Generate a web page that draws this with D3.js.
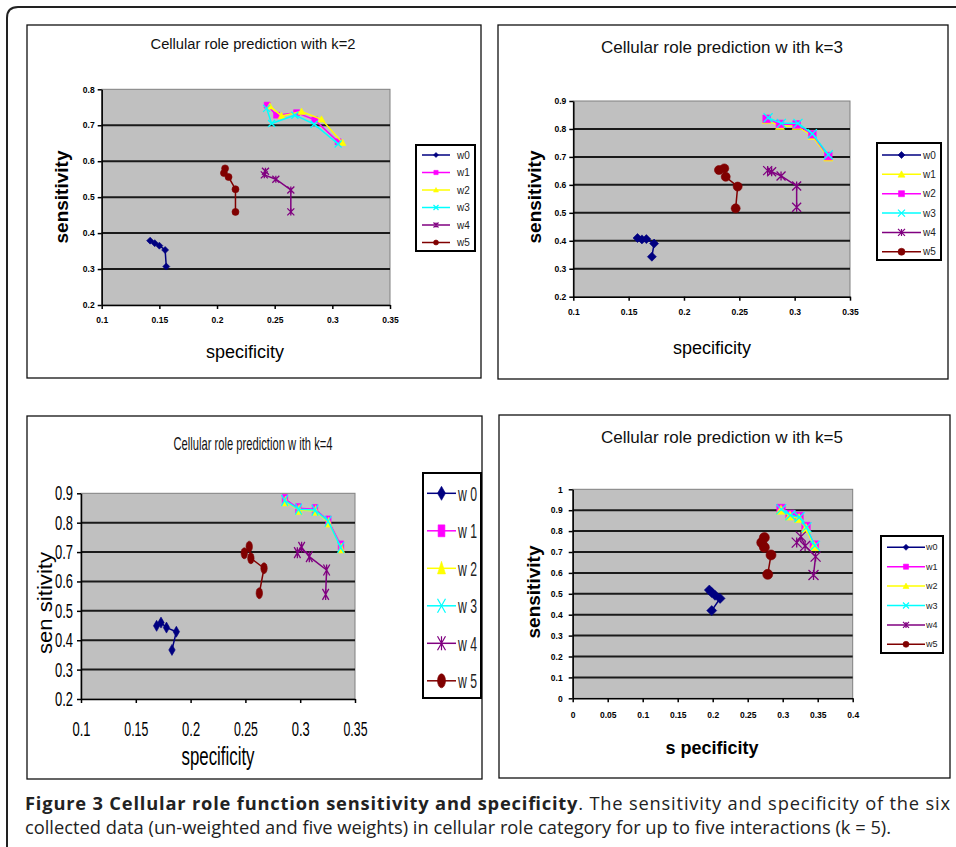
<!DOCTYPE html>
<html>
<head>
<meta charset="utf-8">
<script src="https://cdn.jsdelivr.net/npm/d3@7"></script>
<style>
  body { margin: 0; background: #fff; }
  svg { display: block; }
</style>
</head>
<body>
<div id="chart"></div>
<script>

// series and their look (Excel 2003 defaults)
var seriesNames = ["w0", "w1", "w2", "w3", "w4", "w5"];
var seriesColors = ["#000080", "#ff00ff", "#ffff00", "#00ffff", "#800080", "#800000"];
var seriesMarkers = ["diamond", "square", "triangle", "x", "star", "circle"];

// [specificity, sensitivity] per series
var k2Series = [
    [[0.142, 0.379], [0.146, 0.372], [0.150, 0.365], [0.155, 0.353], [0.156, 0.307]],
    [[0.2435, 0.756], [0.2516, 0.728], [0.269, 0.735], [0.2848, 0.715], [0.305, 0.654]],
    [[0.2458, 0.753], [0.256, 0.726], [0.2733, 0.738], [0.2906, 0.7165], [0.3088, 0.6515]],
    [[0.243, 0.747], [0.2473, 0.705], [0.2675, 0.728], [0.2842, 0.703], [0.305, 0.648]],
    [[0.242, 0.572], [0.241, 0.562], [0.251, 0.550], [0.264, 0.520], [0.264, 0.459]],
    [[0.207, 0.580], [0.206, 0.567], [0.210, 0.556], [0.216, 0.522], [0.216, 0.459]]
];
var k3Series = [
    [[0.158, 0.410], [0.162, 0.405], [0.166, 0.406], [0.173, 0.390], [0.171, 0.343]],
    [[0.2747, 0.832], [0.2867, 0.811], [0.3018, 0.811], [0.316, 0.775], [0.3304, 0.698]],
    [[0.2747, 0.836], [0.2867, 0.818], [0.3018, 0.816], [0.316, 0.781], [0.3304, 0.703]],
    [[0.276, 0.840], [0.288, 0.820], [0.303, 0.820], [0.316, 0.783], [0.3304, 0.708]],
    [[0.2756, 0.651], [0.2792, 0.647], [0.2877, 0.632], [0.3018, 0.596], [0.3018, 0.520]],
    [[0.2316, 0.653], [0.2364, 0.659], [0.2377, 0.629], [0.2485, 0.594], [0.2467, 0.516]]
];
var k4Series = [
    [[0.169, 0.449], [0.173, 0.460], [0.178, 0.443], [0.187, 0.429], [0.183, 0.367]],
    [[0.2861, 0.880], [0.2983, 0.849], [0.3135, 0.846], [0.3257, 0.807], [0.3372, 0.722]],
    [[0.2865, 0.872], [0.2990, 0.843], [0.3140, 0.840], [0.3260, 0.800], [0.3375, 0.712]],
    [[0.2858, 0.876], [0.2985, 0.846], [0.3135, 0.843], [0.3255, 0.805], [0.3370, 0.716]],
    [[0.2974, 0.698], [0.3013, 0.716], [0.3083, 0.6845], [0.3241, 0.639], [0.3232, 0.556]],
    [[0.249, 0.696], [0.2535, 0.7185], [0.255, 0.679], [0.267, 0.645], [0.2627, 0.560]]
];
var k5Series = [
    [[0.1952, 0.518], [0.1986, 0.506], [0.2033, 0.493], [0.2105, 0.478], [0.1986, 0.4195]],
    [[0.2976, 0.908], [0.3105, 0.880], [0.3233, 0.870], [0.3333, 0.822], [0.3452, 0.733]],
    [[0.2976, 0.900], [0.3105, 0.872], [0.3233, 0.860], [0.3333, 0.812], [0.3452, 0.726]],
    [[0.2980, 0.904], [0.3110, 0.876], [0.3240, 0.866], [0.3340, 0.818], [0.3460, 0.730]],
    [[0.320, 0.745], [0.326, 0.7735], [0.332, 0.729], [0.347, 0.678], [0.344, 0.590]],
    [[0.2738, 0.769], [0.270, 0.745], [0.2738, 0.7225], [0.2833, 0.686], [0.2786, 0.593]]
];

// tick values
var xTicks1 = [0.1, 0.15, 0.2, 0.25, 0.3, 0.35];
var xTicks2 = [0, 0.05, 0.1, 0.15, 0.2, 0.25, 0.3, 0.35, 0.4];
var yTicks1 = [0.2, 0.3, 0.4, 0.5, 0.6, 0.7, 0.8];
var yTicks2 = [0.2, 0.3, 0.4, 0.5, 0.6, 0.7, 0.8, 0.9];
var yTicks3 = [0, 0.1, 0.2, 0.3, 0.4, 0.5, 0.6, 0.7, 0.8, 0.9, 1];

var titles = [
    "Cellular role prediction with k=2",
    "Cellular role prediction w ith k=3",
    "Cellular role prediction w ith k=4",
    "Cellular role prediction w ith k=5"
];

var W = 956, H = 847;
var svg = d3.select("#chart").append("svg").attr("width", W).attr("height", H);

// outer figure frame with rounded top-left corner
svg.append("path")
    .attr("d", "M7," + H + " L7,18 Q7,7 18,7 L" + W + ",7")
    .attr("fill", "none").attr("stroke", "#222").attr("stroke-width", 2);

function markerPath(type, rx, ry) {
    switch (type) {
        case "diamond": return "M0," + (-ry) + "L" + rx + ",0L0," + ry + "L" + (-rx) + ",0Z";
        case "square": return "M" + (-rx * 0.85) + "," + (-ry * 0.85) + "h" + (1.7 * rx) + "v" + (1.7 * ry) + "h" + (-1.7 * rx) + "Z";
        case "triangle": return "M0," + (-ry) + "L" + rx + "," + (ry * 0.8) + "L" + (-rx) + "," + (ry * 0.8) + "Z";
        case "x": return "M" + (-rx) + "," + (-ry) + "L" + rx + "," + ry + "M" + rx + "," + (-ry) + "L" + (-rx) + "," + ry;
        case "star": return "M" + (-rx) + "," + (-ry) + "L" + rx + "," + ry + "M" + rx + "," + (-ry) + "L" + (-rx) + "," + ry + "M0," + (-ry) + "L0," + ry;
        default:
            return "M" + rx + ",0A" + rx + "," + ry + " 0 1,1 " + (-rx) + ",0A" + rx + "," + ry + " 0 1,1 " + rx + ",0Z";
    }
}

function drawMarker(g, type, color, x, y, rx, ry, sw) {
    var open = (type === "x" || type === "star");
    g.append("path")
        .attr("transform", "translate(" + x + "," + y + ")")
        .attr("d", markerPath(type, rx, ry))
        .attr("fill", open ? "none" : color)
        .attr("stroke", color)
        .attr("stroke-width", open ? sw : 0.6);
}

function fmt(d) { return String(+d.toFixed(2)); }

function drawPanel(cfg) {
    var g = svg.append("g");

    // chart area frame
    g.append("rect")
        .attr("x", cfg.frame[0]).attr("y", cfg.frame[1])
        .attr("width", cfg.frame[2] - cfg.frame[0]).attr("height", cfg.frame[3] - cfg.frame[1])
        .attr("fill", "#fff").attr("stroke", "#111").attr("stroke-width", 1.3);

    var x = d3.scaleLinear().domain(cfg.xDomain).range([cfg.plot[0], cfg.plot[1]]);
    var y = d3.scaleLinear().domain(cfg.yDomain).range([cfg.plot[3], cfg.plot[2]]);

    // plot area
    g.append("rect")
        .attr("x", cfg.plot[0]).attr("y", cfg.plot[2])
        .attr("width", cfg.plot[1] - cfg.plot[0]).attr("height", cfg.plot[3] - cfg.plot[2])
        .attr("fill", "#c0c0c0").attr("stroke", "#808080").attr("stroke-width", 1);

    // gridlines
    g.selectAll(".grid").data(cfg.yTicks.slice(1, -1)).enter().append("line")
        .attr("x1", cfg.plot[0]).attr("x2", cfg.plot[1])
        .attr("y1", function (d) { return y(d); }).attr("y2", function (d) { return y(d); })
        .attr("stroke", "#1a1a1a").attr("stroke-width", 2);

    // axes
    var ax = g.append("g").attr("transform", "translate(0," + cfg.plot[3] + ")")
        .call(d3.axisBottom(x).tickValues(cfg.xTicks).tickFormat(fmt).tickSize(4).tickSizeOuter(0).tickPadding(cfg.xPad));
    var ay = g.append("g").attr("transform", "translate(" + cfg.plot[0] + ",0)")
        .call(d3.axisLeft(y).tickValues(cfg.yTicks).tickFormat(fmt).tickSize(4).tickSizeOuter(0).tickPadding(cfg.yPad));
    [ax, ay].forEach(function (a) {
        a.select(".domain").attr("stroke", "#000").attr("stroke-width", 1.5);
        a.selectAll(".tick line").attr("stroke", "#000").attr("stroke-width", 1.5);
        a.selectAll(".tick text")
            .attr("fill", "#000")
            .style("font-family", "'Liberation Sans', Arial, sans-serif")
            .style("font-size", cfg.tickSize + "px")
            .style("font-weight", cfg.tickWeight);
        if (cfg.narrow) {
            a.selectAll(".tick text")
                .attr("textLength", function (d) { return fmt(d).length * 6; })
                .attr("lengthAdjust", "spacingAndGlyphs");
        }
    });

    // series
    var line = d3.line().x(function (d) { return x(d[0]); }).y(function (d) { return y(d[1]); });
    cfg.data.forEach(function (pts, i) {
        var s = cfg.styleOrder[i];
        g.append("path").attr("d", line(pts))
            .attr("fill", "none").attr("stroke", seriesColors[s]).attr("stroke-width", cfg.lineW);
        pts.forEach(function (p) {
            drawMarker(g, seriesMarkers[s], seriesColors[s], x(p[0]), y(p[1]), cfg.mrx, cfg.mry, 1.3);
        });
    });

    // title
    var t = g.append("text")
        .attr("x", cfg.title.x).attr("y", cfg.title.y)
        .attr("text-anchor", "middle")
        .style("font-family", "'Liberation Sans', Arial, sans-serif")
        .style("font-size", cfg.title.size + "px")
        .attr("fill", "#111")
        .text(cfg.title.text);
    if (cfg.title.len) t.attr("textLength", cfg.title.len).attr("lengthAdjust", "spacingAndGlyphs");

    // axis titles
    var yl = g.append("text")
        .attr("transform", "translate(" + cfg.yLabel.x + "," + cfg.yLabel.y + ") rotate(-90)")
        .attr("text-anchor", "middle")
        .style("font-family", "'Liberation Sans', Arial, sans-serif")
        .style("font-size", cfg.yLabel.size + "px")
        .style("font-weight", cfg.yLabel.weight)
        .text(cfg.yLabel.text);
    if (cfg.yLabel.len) yl.attr("textLength", cfg.yLabel.len).attr("lengthAdjust", "spacingAndGlyphs");
    var xl = g.append("text")
        .attr("x", cfg.xLabel.x).attr("y", cfg.xLabel.y)
        .attr("text-anchor", "middle")
        .style("font-family", "'Liberation Sans', Arial, sans-serif")
        .style("font-size", cfg.xLabel.size + "px")
        .style("font-weight", cfg.xLabel.weight)
        .text(cfg.xLabel.text);
    if (cfg.xLabel.len) xl.attr("textLength", cfg.xLabel.len).attr("lengthAdjust", "spacingAndGlyphs");

    // legend
    var L = cfg.legend;
    g.append("rect")
        .attr("x", L.box[0]).attr("y", L.box[1])
        .attr("width", L.box[2] - L.box[0]).attr("height", L.box[3] - L.box[1])
        .attr("fill", "#fff").attr("stroke", "#000").attr("stroke-width", 2);
    seriesNames.forEach(function (name, i) {
        var s = cfg.styleOrder[i];
        var ly = L.y0 + i * L.dy;
        g.append("line")
            .attr("x1", L.x1).attr("x2", L.x2).attr("y1", ly).attr("y2", ly)
            .attr("stroke", seriesColors[s]).attr("stroke-width", cfg.lineW);
        drawMarker(g, seriesMarkers[s], seriesColors[s], (L.x1 + L.x2) / 2, ly, L.mrx, L.mry, 1.2);
        var lt = g.append("text")
            .attr("x", L.tx).attr("y", ly).attr("dy", "0.35em")
            .style("font-family", "'Liberation Sans', Arial, sans-serif")
            .style("font-size", L.size + "px")
            .attr("fill", "#222")
            .text(L.label(name));
        if (L.len) lt.attr("textLength", L.len).attr("lengthAdjust", "spacingAndGlyphs");
    });
}

var plain = function (n) { return n; };

drawPanel({
    frame: [27, 25, 481, 378], plot: [101.7, 390, 89.3, 305],
    xDomain: [0.1, 0.35], yDomain: [0.2, 0.8], xTicks: xTicks1, yTicks: yTicks1,
    tickSize: 8.5, tickWeight: "bold", xPad: 8, yPad: 3,
    data: k2Series, styleOrder: [0, 1, 2, 3, 4, 5], lineW: 1.5, mrx: 3.5, mry: 3.5,
    title: { text: titles[0], x: 253, y: 49, size: 14, len: 205 },
    yLabel: { text: "sensitivity", x: 68, y: 197, size: 19, weight: "bold" },
    xLabel: { text: "specificity", x: 245, y: 358, size: 18, weight: "normal" },
    legend: { box: [416, 145, 475, 251], y0: 155, dy: 17.5, x1: 422, x2: 450, tx: 457, size: 10,
              mrx: 2.5, mry: 2.5, label: plain }
});

drawPanel({
    frame: [498, 25, 948, 379], plot: [573.3, 850, 101, 296.7],
    xDomain: [0.1, 0.35], yDomain: [0.2, 0.9], xTicks: xTicks1, yTicks: yTicks2,
    tickSize: 8.5, tickWeight: "bold", xPad: 8, yPad: 3,
    data: k3Series, styleOrder: [0, 2, 1, 3, 4, 5], lineW: 1.5, mrx: 4.5, mry: 4.5,
    title: { text: titles[1], x: 722, y: 53, size: 17, len: 242 },
    yLabel: { text: "sensitivity", x: 541, y: 197, size: 19, weight: "bold" },
    xLabel: { text: "specificity", x: 712, y: 354, size: 18, weight: "normal" },
    legend: { box: [877, 143, 941, 260], y0: 155, dy: 19.35, x1: 882, x2: 921, tx: 923, size: 10,
              mrx: 3.5, mry: 3.5, label: plain }
});

drawPanel({
    frame: [27, 416, 482, 779], plot: [81, 355, 493.3, 699],
    xDomain: [0.1, 0.35], yDomain: [0.2, 0.9], xTicks: xTicks1, yTicks: yTicks2,
    tickSize: 20, tickWeight: "normal", xPad: 19, yPad: 4, narrow: true,
    data: k4Series, styleOrder: [0, 1, 2, 3, 4, 5], lineW: 1.5, mrx: 3.2, mry: 5.5,
    title: { text: titles[2], x: 253, y: 450, size: 19, len: 159 },
    yLabel: { text: "sen sitivity", x: 52, y: 603, size: 21, weight: "normal", len: 102 },
    xLabel: { text: "specificity", x: 218, y: 765, size: 25, weight: "normal", len: 73 },
    legend: { box: [423, 473, 481, 698], y0: 493.3, dy: 37.5, x1: 427, x2: 456, tx: 458, size: 21,
              mrx: 4, mry: 7, label: function (n) { return "w " + n.slice(1); }, len: 19 }
});

drawPanel({
    frame: [499, 415, 950, 778], plot: [572.7, 852.7, 489.3, 698.3],
    xDomain: [0, 0.4], yDomain: [0, 1], xTicks: xTicks2, yTicks: yTicks3,
    tickSize: 8.5, tickWeight: "bold", xPad: 10, yPad: 6,
    data: k5Series, styleOrder: [0, 1, 2, 3, 4, 5], lineW: 1.5, mrx: 5, mry: 5,
    title: { text: titles[3], x: 722, y: 443, size: 17, len: 242 },
    yLabel: { text: "sensitivity", x: 540, y: 592, size: 19, weight: "bold" },
    xLabel: { text: "s pecificity", x: 712, y: 754, size: 18, weight: "bold" },
    legend: { box: [881, 536, 943, 653], y0: 547.3, dy: 19.4, x1: 887, x2: 925, tx: 926, size: 9,
              mrx: 3, mry: 3, label: plain }
});

// caption
var cap1 = svg.append("text")
    .attr("x", 25).attr("y", 810)
    .attr("textLength", 925).attr("lengthAdjust", "spacing")
    .style("font-family", "'Open Sans', sans-serif")
    .style("font-size", "18.3px")
    .attr("fill", "#222");
cap1.append("tspan").style("font-weight", "bold")
    .text("Figure 3 Cellular role function sensitivity and specificity");
cap1.append("tspan").text(". The sensitivity and specificity of the six");

svg.append("text")
    .attr("x", 25).attr("y", 834)
    .style("font-family", "'Open Sans', sans-serif")
    .style("font-size", "18.3px")
    .attr("fill", "#222")
    .text("collected data (un-weighted and five weights) in cellular role category for up to five interactions (k = 5).");

</script>
</body>
</html>
